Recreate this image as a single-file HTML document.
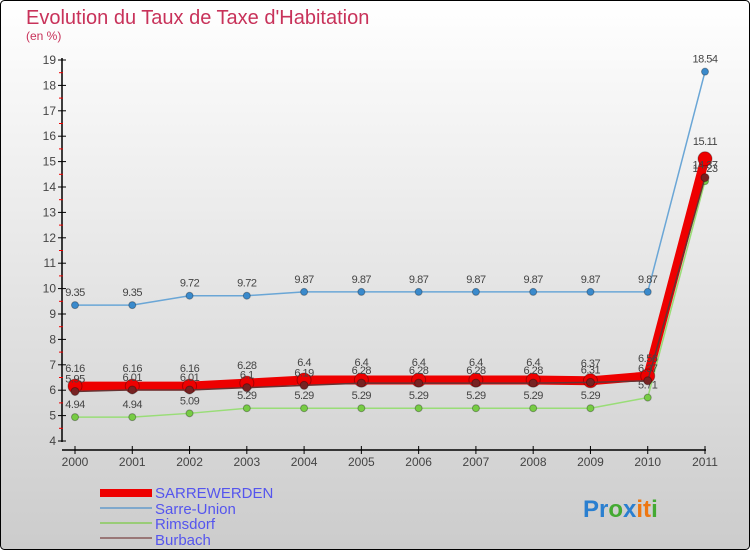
<!DOCTYPE html>
<html><head><meta charset="utf-8"><style>
body{margin:0;width:750px;height:550px;overflow:hidden;font-family:"Liberation Sans",sans-serif}
</style></head><body>
<svg id="c" width="750" height="550" xmlns="http://www.w3.org/2000/svg">
<defs><linearGradient id="bg" x1="0" y1="0" x2="0" y2="1"><stop offset="0" stop-color="#ffffff"/><stop offset="1" stop-color="#cccccc"/></linearGradient></defs>
<rect x="0.5" y="0.5" width="749" height="549" rx="4" fill="url(#bg)" stroke="#000"/>
<text x="26" y="24" font-size="20" fill="#c8325a">Evolution du Taux de Taxe d'Habitation</text>
<text x="26" y="40" font-size="12" fill="#c8325a">(en %)</text>
<g id="axes"></g><g id="series"></g>
<g>
<rect x="100" y="489" width="52" height="8" fill="#ee0000"/>
<text x="155" y="498" font-size="15" fill="#5555ee">SARREWERDEN</text>
<rect x="100" y="507" width="52" height="2" fill="#7fa8cc"/>
<text x="155" y="514" font-size="15" fill="#5555ee">Sarre-Union</text>
<rect x="100" y="522" width="52" height="2" fill="#99cc77"/>
<text x="155" y="529" font-size="15" fill="#5555ee">Rimsdorf</text>
<rect x="100" y="537" width="52" height="2" fill="#997777"/>
<text x="155" y="545" font-size="15" fill="#5555ee">Burbach</text>
</g>
<text x="583" y="517" font-size="24" font-weight="bold"><tspan fill="#2a7fd0">Pr</tspan><tspan fill="#44aa33">o</tspan><tspan fill="#2a7fd0">x</tspan><tspan fill="#ee7711">it</tspan><tspan fill="#44aa33">i</tspan></text>
</svg>
<script>
const years=["2000","2001","2002","2003","2004","2005","2006","2007","2008","2009","2010","2011"];
const yTicks=[4,5,6,7,8,9,10,11,12,13,14,15,16,17,18,19];
const sarreUnion=[9.35,9.35,9.72,9.72,9.87,9.87,9.87,9.87,9.87,9.87,9.87,18.54];
const rimsdorf=[4.94,4.94,5.09,5.29,5.29,5.29,5.29,5.29,5.29,5.29,5.71,14.23];
const burbach=[5.95,6.01,6.01,6.1,6.19,6.28,6.28,6.28,6.28,6.31,6.37,14.37];
const sarrewerden=[6.16,6.16,6.16,6.28,6.4,6.4,6.4,6.4,6.4,6.37,6.56,15.11];
const NS="http://www.w3.org/2000/svg";
const x=i=>75+i*(630/11);
const y=v=>441-(v-4)*25.4;
function mk(t,a,p){const e=document.createElementNS(NS,t);for(const k in a)e.setAttribute(k,a[k]);p.appendChild(e);return e;}
const ax=document.getElementById('axes');
let l=mk('line',{x1:62,y1:58,x2:62,y2:442,stroke:'#000','stroke-width':1.5},ax);


l=mk('line',{x1:62,y1:450,x2:706,y2:450,stroke:'#000','stroke-width':1.5},ax);


yTicks.forEach((v,i)=>{
 mk('line',{x1:58,y1:y(v),x2:66,y2:y(v),stroke:'#000'},ax);
 if(i<yTicks.length-1)mk('line',{x1:59,y1:y(v+0.5),x2:63,y2:y(v+0.5),stroke:'#e00'},ax);
 const t=mk('text',{x:56,y:y(v)+4,'font-size':12,fill:'#444','text-anchor':'end'},ax);
 t.textContent=v;
 
 
});
years.forEach((yr,i)=>{
 mk('line',{x1:x(i),y1:446,x2:x(i),y2:454,stroke:'#000'},ax);
 const t=mk('text',{x:x(i),y:466,'font-size':12,fill:'#444','text-anchor':'middle'},ax);
 t.textContent=yr;
 
 
});
const sg=document.getElementById('series');
function draw(data,name,color,w,r,dot,lab){
 const g=mk('g',{},sg);
 
 
 const p=mk('polyline',{points:data.map((v,i)=>x(i)+','+y(v)).join(' '),fill:'none',stroke:color,'stroke-width':w,'stroke-linejoin':'round'},g);
 
 
 data.forEach((v,i)=>{
  const c=mk('circle',{cx:x(i),cy:y(v),r:r,fill:dot,stroke:'rgba(0,0,0,0.3)'},g);
  
  
  const t=mk('text',{x:x(i),y:y(v)-lab,'font-size':11,fill:'#444','text-anchor':'middle','letter-spacing':'-0.5'},g);
  t.textContent=v;
  
  
 });
}
draw(sarreUnion,'sarre-union','#6aa6d6',1.5,3.5,'#3a8acc',9);
draw(rimsdorf,'rimsdorf','#99dd77',1.5,3.5,'#77cc44',9);
draw(sarrewerden,'sarrewerden','#ee0000',9,7,'#ee0000',14);
draw(burbach,'burbach','#663333',1.5,4,'#772222',9);
</script>
</body></html>
